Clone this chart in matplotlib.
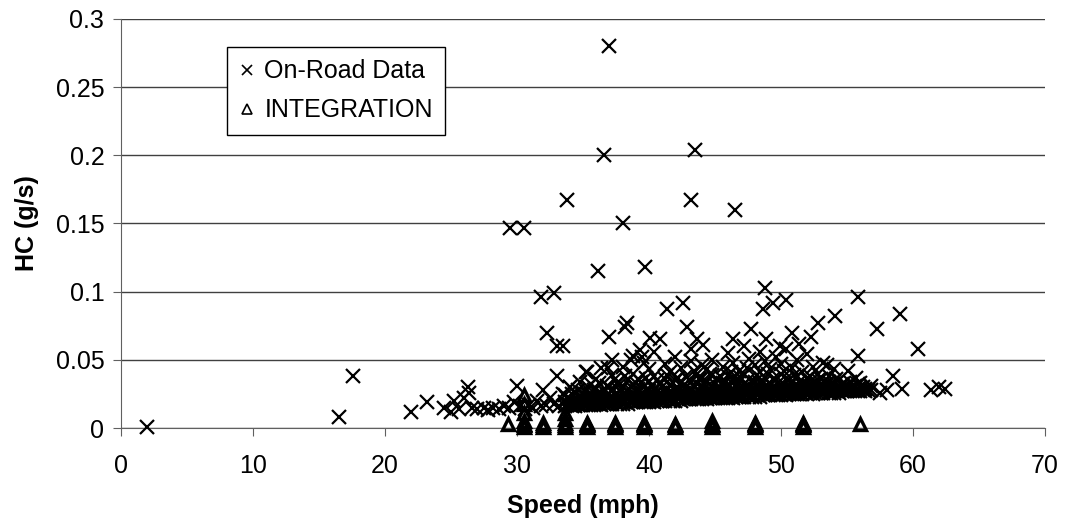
import matplotlib
matplotlib.use("Agg")
import matplotlib.pyplot as plt

plt.rcParams['font.family'] = ['Liberation Sans', 'DejaVu Sans']

# on-road data: scattered high points
speed_high = [2.0, 16.5, 17.6, 22.0, 23.2, 29.5, 30.5, 31.8, 32.3, 32.8, 33.0, 33.5,
              33.8, 36.1, 36.6, 37.0, 38.0, 38.2, 38.3, 39.7, 41.4, 42.6, 43.2, 43.5,
              46.5, 48.8, 48.6, 49.4, 50.4, 55.8, 54.1, 52.8, 59.0, 57.3, 60.4, 55.8,
              47.7, 52.3, 50.8, 46.4, 37.0, 40.1, 40.8, 42.9, 43.6, 44.1, 39.3, 39.5,
              38.6, 35.3, 36.9, 48.9, 49.9, 51.4, 58.5, 55.1, 53.5, 55.7, 57.5, 58.0,
              59.2, 61.4, 62.0, 62.4, 34.0]
hc_high = [0.001, 0.008, 0.038, 0.012, 0.019, 0.147, 0.147, 0.096, 0.070, 0.099, 0.060, 0.060,
           0.167, 0.115, 0.200, 0.280, 0.150, 0.074, 0.077, 0.118, 0.087, 0.092, 0.167, 0.204,
           0.160, 0.103, 0.087, 0.092, 0.094, 0.096, 0.082, 0.077, 0.084, 0.073, 0.058, 0.053,
           0.073, 0.067, 0.070, 0.065, 0.067, 0.066, 0.065, 0.074, 0.065, 0.061, 0.057, 0.052,
           0.050, 0.041, 0.044, 0.065, 0.060, 0.062, 0.038, 0.042, 0.046, 0.037, 0.026, 0.028,
           0.029, 0.028, 0.030, 0.029, 0.030]

# on-road data: low speed row
speed_low = [24.5, 25.0, 25.2, 25.6, 26.0, 26.3, 26.4, 26.6, 27.0, 27.5, 27.8, 28.2,
             28.6, 29.0, 29.4, 29.8, 30.0, 30.2, 30.6, 30.9, 31.2, 31.5, 31.8, 32.0,
             32.2, 32.5, 32.8, 33.0, 33.2, 33.5]
hc_low = [0.015, 0.012, 0.020, 0.014, 0.022, 0.030, 0.026, 0.015, 0.014, 0.015, 0.013, 0.015,
          0.014, 0.016, 0.015, 0.019, 0.031, 0.016, 0.014, 0.017, 0.015, 0.020, 0.016, 0.028,
          0.017, 0.022, 0.018, 0.038, 0.016, 0.025]

# on-road data: dense band, speed -> readings
band = {
    33.6: [0.016, 0.019, 0.024],
    33.8: [0.017, 0.022],
    34.0: [0.017, 0.021, 0.030],
    34.2: [0.016, 0.020, 0.025],
    34.4: [0.016, 0.018, 0.026],
    34.6: [0.017, 0.019, 0.028],
    34.8: [0.017, 0.020, 0.023, 0.034],
    35.0: [0.017, 0.022, 0.026],
    35.2: [0.017, 0.019, 0.027, 0.041],
    35.4: [0.018, 0.020, 0.024, 0.030],
    35.6: [0.017, 0.021, 0.025, 0.032],
    35.8: [0.017, 0.019, 0.023, 0.028],
    36.0: [0.018, 0.020, 0.029, 0.036],
    36.2: [0.018, 0.021, 0.025, 0.033],
    36.4: [0.017, 0.022, 0.026, 0.044],
    36.6: [0.018, 0.020, 0.027],
    36.8: [0.018, 0.020, 0.024, 0.031],
    37.0: [0.018, 0.022, 0.025, 0.030],
    37.2: [0.018, 0.021, 0.028, 0.039, 0.050],
    37.4: [0.019, 0.020, 0.024, 0.036],
    37.6: [0.018, 0.023, 0.026, 0.033],
    37.8: [0.018, 0.021, 0.027, 0.032],
    38.0: [0.018, 0.020, 0.025, 0.030, 0.045],
    38.2: [0.019, 0.023, 0.026, 0.038],
    38.4: [0.018, 0.022, 0.027, 0.035],
    38.6: [0.019, 0.021, 0.024, 0.030],
    38.8: [0.019, 0.021, 0.026, 0.040, 0.053],
    39.0: [0.019, 0.022, 0.027, 0.033],
    39.2: [0.019, 0.023, 0.029, 0.036],
    39.4: [0.020, 0.021, 0.025, 0.034],
    39.6: [0.019, 0.022, 0.025, 0.031, 0.048],
    39.8: [0.019, 0.023, 0.028, 0.037],
    40.0: [0.019, 0.021, 0.027, 0.034, 0.043],
    40.2: [0.020, 0.022, 0.026, 0.031],
    40.4: [0.019, 0.024, 0.029, 0.038, 0.056],
    40.6: [0.020, 0.023, 0.027, 0.035],
    40.8: [0.020, 0.022, 0.026, 0.032],
    41.0: [0.020, 0.021, 0.025, 0.030],
    41.2: [0.020, 0.023, 0.028, 0.036, 0.047],
    41.4: [0.021, 0.024, 0.029, 0.039],
    41.6: [0.020, 0.022, 0.025, 0.031, 0.041],
    41.8: [0.020, 0.022, 0.026, 0.033],
    42.0: [0.020, 0.024, 0.029, 0.035, 0.052],
    42.2: [0.021, 0.023, 0.028, 0.037],
    42.4: [0.020, 0.023, 0.027, 0.033, 0.044],
    42.6: [0.021, 0.024, 0.026, 0.031],
    42.8: [0.021, 0.025, 0.030, 0.038],
    43.0: [0.021, 0.022, 0.027, 0.035],
    43.2: [0.021, 0.023, 0.028, 0.034, 0.049, 0.058],
    43.4: [0.022, 0.025, 0.030, 0.042],
    43.6: [0.021, 0.024, 0.026, 0.032, 0.040],
    43.8: [0.021, 0.023, 0.027, 0.036],
    44.0: [0.021, 0.025, 0.030, 0.037, 0.046],
    44.2: [0.022, 0.024, 0.029, 0.033],
    44.4: [0.021, 0.023, 0.028, 0.034, 0.043],
    44.6: [0.022, 0.025, 0.027, 0.040],
    44.8: [0.022, 0.026, 0.031, 0.039, 0.050],
    45.0: [0.022, 0.023, 0.028, 0.032],
    45.2: [0.022, 0.024, 0.029, 0.035],
    45.4: [0.023, 0.026, 0.030, 0.038],
    45.6: [0.022, 0.025, 0.027, 0.033, 0.045],
    45.8: [0.022, 0.024, 0.029, 0.034],
    46.0: [0.022, 0.026, 0.031, 0.038, 0.055],
    46.2: [0.023, 0.025, 0.027, 0.041],
    46.4: [0.022, 0.024, 0.029, 0.036, 0.048],
    46.6: [0.023, 0.026, 0.030, 0.035],
    46.8: [0.023, 0.025, 0.028, 0.034, 0.042],
    47.0: [0.023, 0.024, 0.028, 0.037],
    47.2: [0.023, 0.027, 0.032, 0.040, 0.060],
    47.4: [0.024, 0.026, 0.031, 0.044],
    47.6: [0.023, 0.025, 0.030, 0.036, 0.051],
    47.8: [0.023, 0.025, 0.029, 0.034],
    48.0: [0.023, 0.026, 0.029, 0.034, 0.046],
    48.2: [0.024, 0.027, 0.030, 0.039],
    48.4: [0.023, 0.027, 0.033, 0.041, 0.056],
    48.6: [0.024, 0.025, 0.028, 0.033],
    48.8: [0.024, 0.026, 0.030, 0.037, 0.049],
    49.0: [0.024, 0.026, 0.031, 0.040],
    49.2: [0.024, 0.028, 0.032, 0.043],
    49.4: [0.025, 0.027, 0.030, 0.036],
    49.6: [0.024, 0.026, 0.029, 0.035, 0.052],
    49.8: [0.024, 0.026, 0.028, 0.033],
    50.0: [0.024, 0.027, 0.031, 0.040, 0.047],
    50.2: [0.025, 0.027, 0.032, 0.042],
    50.4: [0.024, 0.026, 0.030, 0.036, 0.058],
    50.6: [0.025, 0.026, 0.029, 0.035],
    50.8: [0.025, 0.028, 0.033, 0.044],
    51.0: [0.025, 0.028, 0.031, 0.039],
    51.2: [0.025, 0.027, 0.031, 0.038, 0.050],
    51.4: [0.025, 0.027, 0.030, 0.034],
    51.6: [0.025, 0.028, 0.032, 0.041],
    51.8: [0.026, 0.028, 0.032],
    52.0: [0.025, 0.027, 0.030, 0.036, 0.054],
    52.2: [0.026, 0.027, 0.031, 0.038],
    52.4: [0.025, 0.028, 0.033, 0.045],
    52.6: [0.026, 0.029, 0.033],
    52.8: [0.026, 0.029, 0.035, 0.040],
    53.0: [0.026, 0.028, 0.030, 0.036],
    53.2: [0.026, 0.028, 0.031, 0.048],
    53.4: [0.027, 0.029, 0.032],
    53.6: [0.026, 0.029, 0.034, 0.038],
    53.8: [0.026, 0.028, 0.031],
    54.0: [0.026, 0.028, 0.032, 0.043],
    54.2: [0.027, 0.030, 0.036],
    54.4: [0.026, 0.029, 0.035],
    54.6: [0.027, 0.029, 0.032],
    54.8: [0.027, 0.030, 0.033],
    55.0: [0.027, 0.028, 0.031],
    55.2: [0.027, 0.029, 0.034],
    55.4: [0.028, 0.030],
    55.6: [0.027, 0.031],
    55.8: [0.027, 0.029, 0.032],
    56.0: [0.027, 0.030, 0.033],
    56.2: [0.028, 0.030],
    56.4: [0.027, 0.029],
    56.6: [0.028],
    56.8: [0.028, 0.031],
}

# INTEGRATION model output
integ = {
    29.3: [0.003],
    30.5: [0.001, 0.002, 0.003, 0.005, 0.011, 0.018, 0.024],
    32.0: [0.001, 0.002, 0.004],
    33.6: [0.001, 0.002, 0.004, 0.007, 0.011],
    35.3: [0.001, 0.002, 0.003, 0.004],
    37.4: [0.001, 0.002, 0.003, 0.004],
    39.6: [0.001, 0.002, 0.003, 0.004],
    42.0: [0.001, 0.002, 0.003],
    44.8: [0.001, 0.002, 0.003, 0.005],
    48.0: [0.001, 0.002, 0.003, 0.004],
    51.7: [0.001, 0.002, 0.003, 0.004],
    56.0: [0.003],
}

road_x = speed_high + speed_low
road_y = hc_high + hc_low
for s, vals in band.items():
    road_x += [s] * len(vals)
    road_y += vals

int_x, int_y = [], []
for s, vals in integ.items():
    int_x += [s] * len(vals)
    int_y += vals

fig = plt.figure(figsize=(10.67, 5.24), dpi=100)
ax = fig.add_axes([0.1134, 0.183, 0.866, 0.781])

ax.plot(road_x, road_y, 'x', color='black', ms=10, mew=1.6, ls='none',
        label='On-Road Data', clip_on=False, zorder=3)
ax.plot(int_x, int_y, '^', color='black', mfc='none', ms=9, mew=2.4, ls='none',
        label='INTEGRATION', clip_on=False, zorder=4)

ax.set_xlim(0, 70)
ax.set_ylim(0, 0.3)
ax.set_xticks(range(0, 71, 10))
ax.set_yticks([0, 0.05, 0.1, 0.15, 0.2, 0.25, 0.3])
ax.set_yticklabels(['0', '0.05', '0.1', '0.15', '0.2', '0.25', '0.3'])
ax.yaxis.grid(True, color='#404040', lw=1)
ax.set_axisbelow(True)
for sp in ['top', 'right']:
    ax.spines[sp].set_visible(False)
ax.spines['left'].set_color('#606060')
ax.spines['bottom'].set_color('#606060')
ax.tick_params(axis='both', direction='out', length=6, color='#606060',
               labelsize=18, pad=6)
ax.tick_params(axis='x', pad=13)

ax.set_xlabel('Speed (mph)', fontsize=18, fontweight='bold', labelpad=11)
ax.set_ylabel('HC (g/s)', fontsize=18, fontweight='bold', labelpad=12)

leg = ax.legend(loc='upper left', bbox_to_anchor=(0.1147, 0.9315), borderaxespad=0,
                fancybox=False, framealpha=1, edgecolor='black', fontsize=18,
                markerscale=1, handlelength=0.6, handletextpad=0.4,
                labelspacing=0.6, borderpad=0.5)
leg.get_frame().set_linewidth(1)
# smaller, thinner symbols in the legend box
for h in leg.legend_handles:
    h.set_markersize(7)
    h.set_markeredgewidth(1.2)

fig.savefig('out.png', dpi=100)
